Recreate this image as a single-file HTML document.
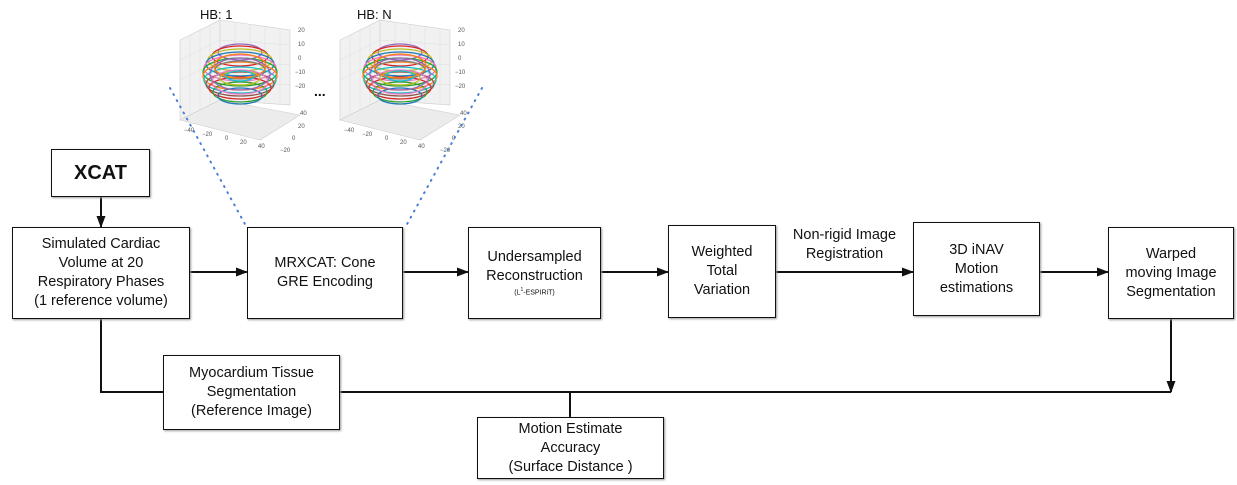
<!DOCTYPE html>
<html><head><meta charset="utf-8"><style>
body{margin:0;background:#fff;width:1237px;height:485px;overflow:hidden;font-family:"Liberation Sans",sans-serif}
.b{position:absolute;border:1.5px solid #111;box-sizing:border-box;display:flex;align-items:center;justify-content:center;text-align:center;font-size:14.5px;line-height:19px;color:#111;background:#fff;box-shadow:1px 1px 2px #999}
.t{position:absolute;font-size:14.5px;line-height:19px;text-align:center;color:#111}
</style></head><body>
<svg width="1237" height="485" style="position:absolute;left:0;top:0">
<defs><marker id="a" markerWidth="12" markerHeight="9" refX="11" refY="4.5" orient="auto" markerUnits="userSpaceOnUse"><path d="M0,0L12,4.5L0,9z" fill="#111"/></marker>
<g id="plot">
 <path d="M0,60 L40,40 L40,-40 L0,-20 Z M40,-40 L110,-30 L110,45 L40,40" fill="#f1f1f1" stroke="#ccc" stroke-width="0.6"/>
 <path d="M0,60 L80,80 L120,55 L40,40 Z" fill="#ececec" stroke="#ccc" stroke-width="0.6"/>
 <g stroke="#ddd" stroke-width="0.5"><path d="M10,55L10,-25M20,50L20,-30M30,45L30,-35M55,-38L55,42M70,-36L70,43M85,-34L85,44M100,-32L100,45M0,20L40,0M0,0L40,-20M40,20L110,25M40,0L110,5M40,-20L110,-15"/></g>
 <g fill="none" stroke-width="1.3">
  <ellipse cx="60" cy="-8" rx="22" ry="8" stroke="#9467bd"/><ellipse cx="60" cy="-4" rx="28" ry="10" stroke="#d62728"/><ellipse cx="60" cy="0" rx="32" ry="11" stroke="#bcbd22"/><ellipse cx="60" cy="4" rx="34" ry="12" stroke="#1f77b4"/><ellipse cx="60" cy="8" rx="36" ry="13" stroke="#e377c2"/><ellipse cx="60" cy="12" rx="37" ry="14" stroke="#2ca02c"/><ellipse cx="60" cy="16" rx="37" ry="14" stroke="#ff7f0e"/><ellipse cx="60" cy="20" rx="36" ry="13" stroke="#17becf"/><ellipse cx="60" cy="24" rx="34" ry="12" stroke="#8c564b"/><ellipse cx="60" cy="28" rx="31" ry="11" stroke="#d62728"/><ellipse cx="60" cy="32" rx="27" ry="10" stroke="#2ca02c"/><ellipse cx="60" cy="36" rx="22" ry="8" stroke="#1f77b4"/><ellipse cx="60" cy="10" rx="25" ry="9" stroke="#7f7f7f"/><ellipse cx="60" cy="18" rx="20" ry="7" stroke="#bcbd22"/><ellipse cx="60" cy="14" rx="30" ry="16" stroke="#9467bd"/><ellipse cx="60" cy="6" rx="26" ry="12" stroke="#ff7f0e"/><ellipse cx="60" cy="22" rx="28" ry="12" stroke="#e377c2"/><ellipse cx="60" cy="16" rx="14" ry="5" stroke="#17becf"/>
 </g>
 <g font-size="6" fill="#555" font-family="Liberation Sans"><text x="118" y="-28">20</text><text x="118" y="-14">10</text><text x="118" y="0">0</text><text x="115" y="14">−10</text><text x="115" y="28">−20</text><text x="4" y="72">−40</text><text x="22" y="76">−20</text><text x="45" y="80">0</text><text x="60" y="84">20</text><text x="78" y="88">40</text><text x="120" y="55">40</text><text x="118" y="68">20</text><text x="112" y="80">0</text><text x="100" y="92">−20</text></g>
</g></defs>
<use href="#plot" x="180" y="60"/>
<use href="#plot" x="340" y="60"/>
<text x="200" y="19" font-size="13" fill="#111" font-family="Liberation Sans">HB: 1</text>
<text x="357" y="19" font-size="13" fill="#111" font-family="Liberation Sans">HB: N</text>
<text x="314" y="96" font-size="14" font-weight="bold" fill="#111" font-family="Liberation Sans">...</text>
<g stroke="#4a7fd0" stroke-width="2" stroke-dasharray="1 6" stroke-linecap="round">
<line x1="170" y1="88" x2="246" y2="226"/><line x1="482" y1="88" x2="406" y2="226"/></g>
<g stroke="#111" stroke-width="2" fill="none">
<line x1="101" y1="197" x2="101" y2="227" marker-end="url(#a)"/>
<line x1="190" y1="272" x2="247" y2="272" marker-end="url(#a)"/>
<line x1="403" y1="272" x2="468" y2="272" marker-end="url(#a)"/>
<line x1="601" y1="272" x2="668" y2="272" marker-end="url(#a)"/>
<line x1="776" y1="272" x2="913" y2="272" marker-end="url(#a)"/>
<line x1="1040" y1="272" x2="1108" y2="272" marker-end="url(#a)"/>
<line x1="1171" y1="319" x2="1171" y2="392" marker-end="url(#a)"/>
<polyline points="101,319 101,392 1171,392"/>
<line x1="570" y1="392" x2="570" y2="417"/>
</g></svg>
<div class="b" style="left:51px;top:149px;width:99px;height:48px;font-size:20px;font-weight:bold">XCAT</div>
<div class="b" style="left:12px;top:227px;width:178px;height:92px">Simulated Cardiac<br>Volume at 20<br>Respiratory Phases<br>(1 reference volume)</div>
<div class="b" style="left:247px;top:227px;width:156px;height:92px">MRXCAT: Cone<br>GRE Encoding</div>
<div class="b" style="left:468px;top:227px;width:133px;height:92px"><div>Undersampled<br>Reconstruction<br><span style="font-size:7px;line-height:9px;display:block">(L<sup style="font-size:5px">1</sup>-ESPIRiT)</span></div></div>
<div class="b" style="left:668px;top:225px;width:108px;height:93px">Weighted<br>Total<br>Variation</div>
<div class="b" style="left:913px;top:222px;width:127px;height:94px">3D iNAV<br>Motion<br>estimations</div>
<div class="b" style="left:1108px;top:227px;width:126px;height:92px">Warped<br>moving Image<br>Segmentation</div>
<div class="b" style="left:163px;top:355px;width:177px;height:75px">Myocardium Tissue<br>Segmentation<br>(Reference Image)</div>
<div class="b" style="left:477px;top:417px;width:187px;height:62px">Motion Estimate<br>Accuracy<br>(Surface Distance )</div>
<div class="t" style="left:776px;top:226px;width:137px">Non-rigid Image<br>Registration</div>
</body></html>
